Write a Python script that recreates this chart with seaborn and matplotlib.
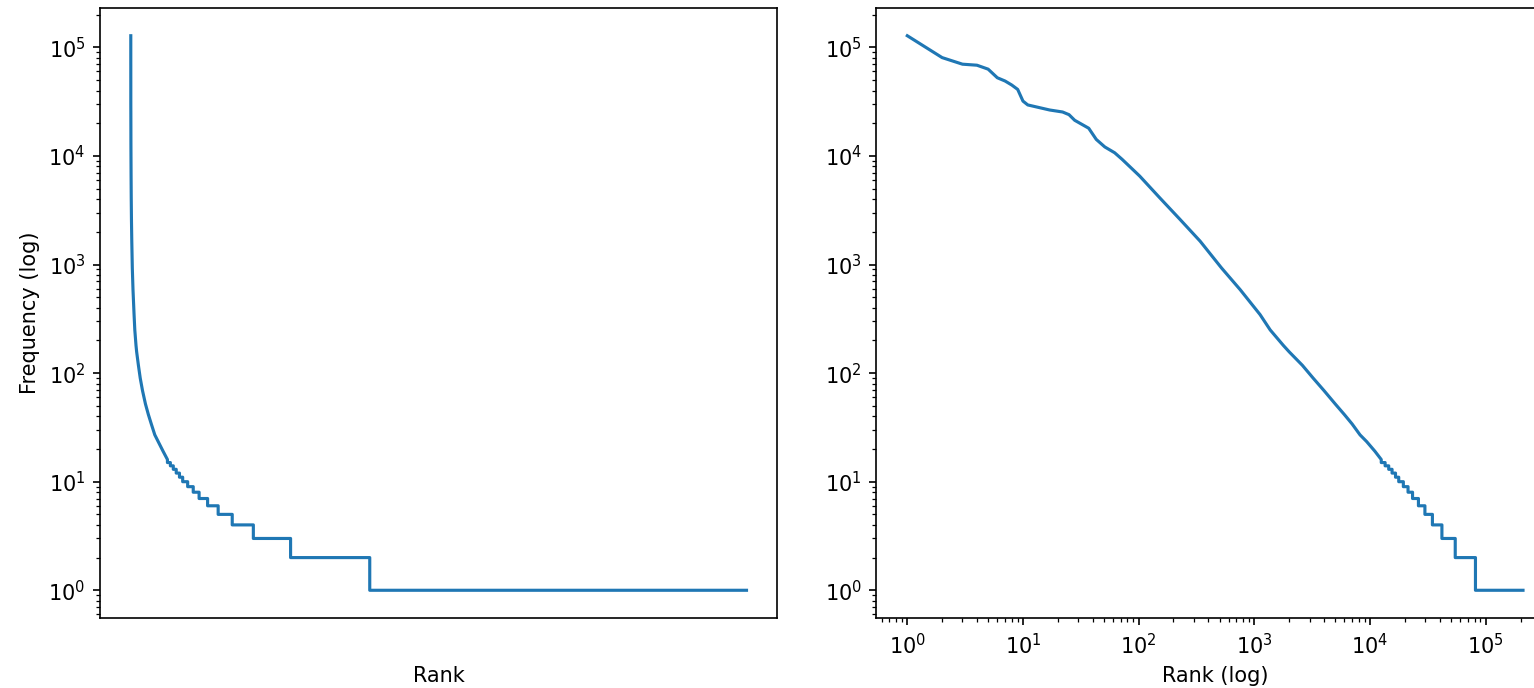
import numpy as np
import pandas as pd
import matplotlib
matplotlib.use("Agg")
import matplotlib.pyplot as plt
import seaborn as sns

# Head of the rank/frequency distribution (most frequent words)
head_rank = [1, 2, 3, 4, 5, 6, 7, 8, 9, 10, 11, 17, 22, 25, 28, 37, 43, 51, 62, 72,
             102, 152, 228, 340, 520, 754, 1120, 1370, 1780, 2000, 2600, 3220, 4000,
             5000, 6000, 7000, 8190, 9350, 11000, 12500]
head_freq = [128000, 80500, 70000, 68500, 63000, 52500, 49000, 45000, 41000, 32000,
             29500, 26500, 25400, 24000, 21300, 18000, 14200, 12100, 10700, 9300,
             6530, 4120, 2600, 1640, 930, 587, 346, 250, 180, 157, 118, 90, 69,
             52, 41.5, 34, 27, 23.4, 19.1, 16]

# Tail: integer frequency levels and the last rank holding each level
step_freq = [15, 14, 13, 12, 11, 10, 9, 8, 7, 6, 5, 4, 3, 2, 1]
step_last_rank = [13500, 14500, 15500, 16600, 17700, 19400, 21300, 23300, 26200,
                  29800, 34600, 41800, 54500, 81500, 210000]

ranks = list(head_rank)
freqs = list(head_freq)
prev = head_rank[-1]
for f, end in zip(step_freq, step_last_rank):
    ranks += [prev, end]
    freqs += [f, f]
    prev = end

df = pd.DataFrame({"rank": ranks, "frequency": freqs})

W, H, DPI = 1535, 688, 150
fig = plt.figure(figsize=(W / DPI, H / DPI), dpi=DPI)
ax1 = fig.add_axes([100 / W, 70 / H, 677.3 / W, 610 / H])
ax2 = fig.add_axes([876.5 / W, 70 / H, 677.3 / W, 610 / H])

# Linear rank, log frequency
ax1.set_yscale("log")
sns.lineplot(data=df, x="rank", y="frequency", estimator=None, sort=False,
             ax=ax1, color="#1f77b4", linewidth=1.5)
ax1.set_xticks([])
ax1.set_ylabel("Frequency (log)")

# Log-log view
ax2.set_xscale("log")
ax2.set_yscale("log")
sns.lineplot(data=df, x="rank", y="frequency", estimator=None, sort=False,
             ax=ax2, color="#1f77b4", linewidth=1.5)
ax2.set_xlabel("Rank (log)")
ax2.set_ylabel("")

# Put the left x label at the same height as the right one
fig.canvas.draw()
y_disp = ax2.xaxis.label.get_position()[1]
bb = ax1.get_window_extent()
ax1.set_xlabel("Rank")
ax1.xaxis.set_label_coords(0.5, (y_disp - bb.y0) / bb.height)

fig.savefig("out.png", dpi=DPI)
